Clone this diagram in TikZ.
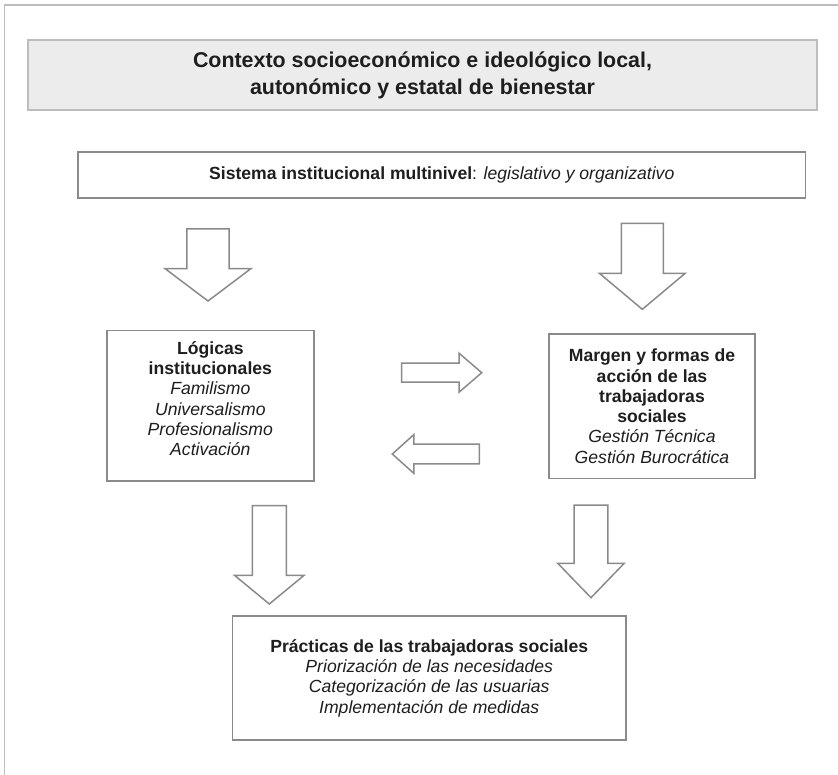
\documentclass[tikz,border=0pt]{standalone}
\usepackage{fontspec}
\setmainfont{Liberation Sans}
\usepackage{tikz}
\usetikzlibrary{shapes.arrows}

\definecolor{gristexto}{HTML}{1E1E1E}
\definecolor{grisborde}{HTML}{8A8A8A}
\definecolor{grisclaro}{HTML}{BDBDBD}
\definecolor{grisfondo}{HTML}{ECECEC}

\begin{document}
\begin{tikzpicture}[x=1pt,y=-1pt,align=center,text=gristexto,inner sep=0pt,outer sep=0pt,
  caja/.style={draw=grisborde,line width=1.6pt,rectangle,fill=white,font=\fontsize{17.6}{20.3}\selectfont},
  contexto/.style={draw=grisclaro,line width=1.8pt,rectangle,fill=grisfondo,font=\bfseries\fontsize{21.4}{26.8}\selectfont},
  flecha/.style={single arrow,draw=grisborde,line width=1.5pt,fill=white,anchor=tip}]
\useasboundingbox (0,0) rectangle (838,775);
\draw[grisclaro,line width=1.8pt] (4.5,775) -- (4.5,5) -- (838,5);

\node[contexto,minimum width=789pt,minimum height=70pt] (contexto) at (422.5,75)
  {Contexto socioeconómico e ideológico local,\\ autonómico y estatal de bienestar};
\node[caja,minimum width=727.5pt,minimum height=46pt] (sistema) at (441.75,175)
  {\textbf{Sistema institucional multinivel}: \textit{legislativo y organizativo}};
\node[caja,minimum width=207.3pt,minimum height=150pt] (logicas) at (210.35,405.7)
  {\textbf{Lógicas}\\ \textbf{institucionales}\\ \textit{Familismo}\\ \textit{Universalismo}\\ \textit{Profesionalismo}\\ \textit{Activación}\\[-6pt]};
\node[caja,minimum width=206pt,minimum height=144.3pt] (margen) at (652,406.2)
  {\textbf{Margen y formas de}\\ \textbf{acción de las}\\ \textbf{trabajadoras}\\ \textbf{sociales}\\ \textit{Gestión Técnica}\\ \textit{Gestión Burocrática}};
\node[caja,minimum width=393.5pt,minimum height=124pt] (practicas) at (429.25,678)
  {\textbf{Prácticas de las trabajadoras sociales}\\ \textit{Priorización de las necesidades}\\ \textit{Categorización de las usuarias}\\ \textit{Implementación de medidas}};

% flechas de bloque
\node[flecha,shape border rotate=270,minimum height=72pt,inner sep=20.3pt,
  single arrow head extend=22pt,single arrow tip angle=106] (sisLog) at (208,301) {};
\node[flecha,shape border rotate=270,minimum height=86pt,inner sep=20.3pt,
  single arrow head extend=21.7pt,single arrow tip angle=100] (sisMar) at (642.3,309.3) {};
\node[flecha,shape border rotate=0,minimum height=80pt,inner sep=8.7pt,
  single arrow head extend=10pt,single arrow tip angle=81.5] (logMar) at (481.7,372.7) {};
\node[flecha,shape border rotate=180,minimum height=87pt,inner sep=9.1pt,
  single arrow head extend=9.6pt,single arrow tip angle=84] (marLog) at (392.3,454) {};
\node[flecha,shape border rotate=270,minimum height=98.3pt,inner sep=16.3pt,
  single arrow head extend=17.8pt,single arrow tip angle=101] (logPra) at (269.3,604) {};
\node[flecha,shape border rotate=270,minimum height=92.7pt,inner sep=16.2pt,
  single arrow head extend=16.3pt,single arrow tip angle=88] (marPra) at (591,597.7) {};
\end{tikzpicture}
\end{document}
